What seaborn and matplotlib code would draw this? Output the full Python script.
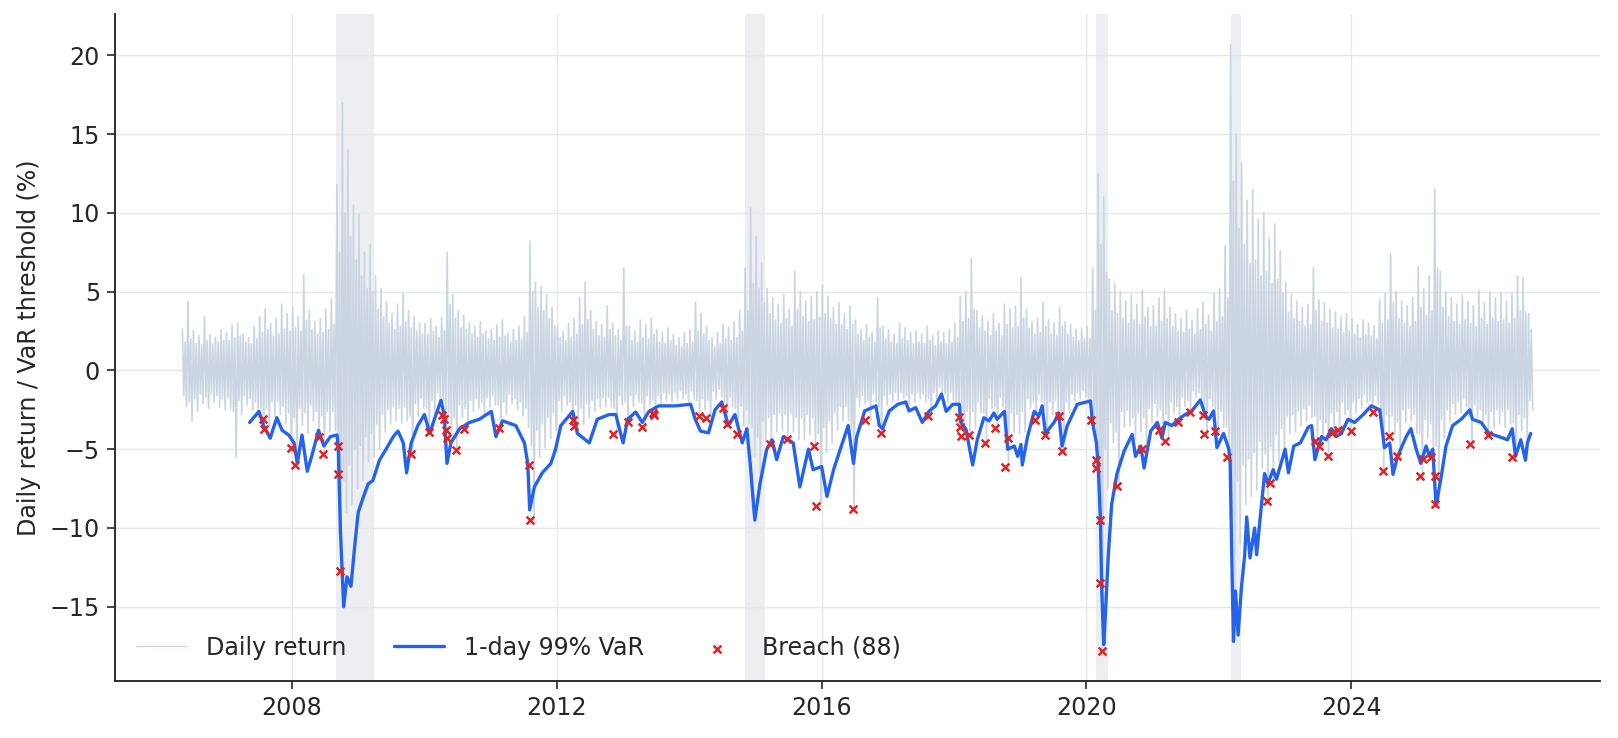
import numpy as np
import matplotlib
matplotlib.use("Agg")
import matplotlib.pyplot as plt
import seaborn as sns

sns.set_theme(style="ticks")
plt.rcParams['font.family'] = ['DejaVu Sans']

# daily return swings per month, May 2006 .. Sep 2026 (%)
# largest up move, largest down move, and the next-largest of each
ret_hi = [
    2.6, 4.4, 2.5, 2.2, 3.4, 2.3, 2.1, 2.6,                      # 2006
    2.4, 2.9, 3.0, 2.3, 2.1, 2.8, 3.4, 3.9, 3.0, 3.3, 4.2, 3.6,  # 2007
    4.0, 3.4, 6.1, 3.8, 3.1, 3.3, 3.9, 4.5, 11.8, 17.0, 14.0, 10.5,
    9.9, 7.5, 8.0, 6.0, 5.2, 4.4, 3.6, 4.2, 4.9, 3.8, 3.4, 3.0,
    3.0, 3.3, 2.8, 3.4, 7.5, 4.8, 3.8, 3.5, 3.0, 2.8, 3.1, 2.5,  # 2010
    2.6, 2.9, 3.2, 2.4, 2.6, 2.8, 3.4, 8.2, 5.6, 5.3, 4.8, 4.0,
    2.8, 2.5, 3.0, 3.3, 4.6, 5.6, 3.8, 3.1, 2.9, 4.1, 3.0, 2.6,
    6.5, 2.8, 2.5, 3.2, 2.9, 3.3, 2.6, 2.4, 2.7, 2.3, 2.1, 2.4,
    2.6, 4.3, 3.6, 2.8, 2.1, 2.4, 2.9, 2.7, 3.1, 3.8, 6.5, 10.3,
    8.5, 6.8, 5.2, 4.6, 4.2, 4.8, 3.9, 6.3, 5.0, 4.4, 4.7, 5.0,  # 2015
    5.4, 4.7, 4.0, 4.3, 3.6, 4.1, 3.2, 2.6, 2.9, 2.4, 4.6, 2.8,
    2.6, 2.3, 3.0, 2.7, 2.4, 2.5, 2.3, 2.8, 2.2, 2.5, 2.4, 2.6,
    3.0, 4.7, 5.0, 7.1, 3.8, 3.5, 3.1, 3.6, 3.0, 4.2, 3.9, 4.1,
    5.9, 3.9, 3.1, 3.3, 4.3, 3.2, 3.0, 4.0, 3.1, 2.9, 2.6, 2.7,
    2.8, 6.5, 12.5, 11.0, 5.8, 5.5, 5.0, 4.4, 4.8, 4.2, 5.1, 4.0,  # 2020
    4.1, 4.6, 5.1, 4.0, 3.6, 3.3, 3.8, 3.2, 3.9, 4.3, 3.5, 4.9,
    5.2, 7.9, 20.7, 15.0, 13.2, 10.8, 11.5, 9.6, 10.0, 8.4, 9.3, 7.6,
    5.6, 4.8, 4.4, 4.0, 4.2, 6.5, 4.5, 4.3, 3.9, 3.7, 3.4, 3.6,
    3.3, 2.9, 3.2, 3.0, 2.8, 4.5, 4.9, 7.4, 5.0, 4.4, 4.1, 4.6,
    6.6, 5.2, 6.0, 11.5, 6.3, 5.0, 4.6, 4.2, 4.8, 4.4, 4.1, 5.1,  # 2025
    4.3, 5.0, 4.6, 4.9, 4.4, 4.9, 6.0, 5.9, 3.6,
]
ret_lo = [
    -2.3, -3.2, -2.6, -2.1, -2.4, -2.0, -2.3, -2.5,
    -2.4, -5.5, -2.8, -2.2, -2.5, -3.0, -3.7, -3.6, -2.9, -2.8, -3.4, -4.9,
    -6.0, -3.5, -4.0, -3.2, -4.2, -5.3, -3.9, -3.8, -12.7, -9.0, -8.5, -7.5,
    -7.0, -5.8, -5.5, -5.0, -3.9, -3.4, -3.2, -3.3, -3.2, -5.3, -2.9, -2.4,
    -3.9, -2.7, -1.8, -3.06, -4.3, -5.06, -3.0, -3.7, -2.6, -2.4, -2.8, -2.3,
    -2.2, -3.66, -2.8, -2.1, -2.5, -2.9, -3.6, -9.5, -5.5, -4.9, -4.3, -3.8,
    -2.6, -2.2, -3.15, -3.5, -3.4, -3.0, -2.6, -2.4, -2.3, -2.3, -4.06, -2.2,
    -3.3, -2.3, -2.0, -3.6, -2.2, -2.85, -2.2, -1.9, -2.0, -1.9, -1.8, -2.0,
    -1.8, -2.9, -2.5, -3.0, -1.8, -1.7, -3.4, -2.3, -4.06, -3.5, -3.4, -5.5,
    -6.5, -4.5, -4.7, -3.9, -3.8, -4.34, -3.9, -4.4, -4.4, -4.1, -4.8, -8.6,
    -5.2, -4.6, -3.8, -3.2, -3.2, -8.8, -2.3, -2.1, -3.15, -2.0, -3.96, -2.2,
    -2.0, -1.9, -1.8, -2.1, -2.0, -1.8, -2.0, -2.9, -1.9, -1.4, -2.0, -1.9,
    -2.94, -4.17, -4.1, -3.7, -2.7, -4.6, -2.4, -3.68, -2.3, -6.1, -3.9, -4.0,
    -3.9, -2.4, -3.15, -2.0, -4.1, -2.8, -2.9, -5.1, -2.7, -1.9, -1.8, -1.7,
    -3.15, -6.2, -17.8, -7.5, -4.6, -7.36, -3.6, -3.5, -4.4, -3.9, -4.98, -3.3,
    -2.9, -3.8, -4.5, -2.7, -3.3, -2.3, -2.64, -1.7, -1.8, -4.06, -2.3, -3.85,
    -3.6, -5.5, -14.0, -11.0, -8.5, -8.0, -7.6, -6.2, -8.26, -7.15, -5.8, -5.2,
    -4.0, -3.9, -3.5, -3.2, -3.0, -4.45, -4.8, -5.4, -4.0, -3.8, -2.8, -3.85,
    -2.7, -2.4, -2.0, -2.64, -2.1, -6.4, -4.17, -4.0, -5.4, -3.3, -3.2, -4.0,
    -6.7, -4.3, -5.5, -8.5, -4.3, -3.3, -2.8, -2.7, -2.3, -4.7, -3.0, -3.4,
    -4.1, -3.6, -3.4, -3.6, -3.4, -5.5, -3.8, -4.5, -2.5,
]
ret_hi2 = [
    1.8, 2.0, 1.7, 1.6, 1.9, 1.7, 1.8, 1.9,
    1.9, 2.1, 2.2, 1.8, 1.7, 2.0, 2.4, 2.6, 2.2, 2.3, 2.6, 2.5,
    2.7, 2.5, 3.2, 2.6, 2.3, 2.4, 2.6, 2.9, 7.5, 10.0, 8.5, 7.0,
    6.0, 5.2, 5.0, 3.9, 3.4, 3.0, 2.6, 2.8, 3.1, 2.7, 2.5, 2.3,
    2.3, 2.5, 2.1, 2.5, 4.2, 3.3, 2.7, 2.6, 2.3, 2.1, 2.3, 2.0,
    1.9, 2.1, 2.2, 1.8, 1.9, 2.0, 2.4, 5.0, 4.0, 3.8, 3.3, 2.8,
    2.1, 1.9, 2.1, 2.3, 2.9, 3.2, 2.6, 2.2, 2.1, 2.6, 2.2, 1.9,
    2.8, 1.9, 1.8, 2.1, 2.0, 2.3, 1.8, 1.7, 1.9, 1.6, 1.5, 1.7,
    1.8, 2.5, 2.3, 1.9, 1.5, 1.7, 2.0, 1.9, 2.1, 2.5, 3.8, 5.5,
    5.2, 4.3, 3.6, 3.2, 3.0, 3.3, 2.8, 3.9, 3.4, 3.1, 3.2, 3.4,
    3.6, 3.3, 2.9, 2.9, 2.6, 2.9, 2.3, 1.9, 2.1, 1.8, 2.7, 2.0,
    1.8, 1.7, 2.0, 1.9, 1.7, 1.8, 1.7, 1.9, 1.6, 1.8, 1.7, 1.8,
    2.1, 3.1, 3.3, 3.9, 2.7, 2.5, 2.2, 2.5, 2.2, 2.9, 2.7, 2.8,
    3.3, 2.7, 2.3, 2.4, 2.8, 2.3, 2.2, 2.8, 2.3, 2.1, 1.9, 2.0,
    2.0, 3.8, 8.0, 6.2, 3.8, 3.6, 3.3, 3.0, 3.2, 2.9, 3.4, 2.8,
    2.8, 3.1, 3.3, 2.8, 2.5, 2.4, 2.6, 2.3, 2.6, 2.9, 2.5, 3.1,
    3.4, 4.6, 12.0, 9.0, 8.0, 6.8, 7.0, 6.0, 6.3, 5.5, 5.8, 4.9,
    3.7, 3.3, 3.1, 2.8, 2.9, 3.8, 3.1, 3.0, 2.7, 2.6, 2.4, 2.5,
    2.3, 2.1, 2.3, 2.2, 2.0, 3.0, 3.2, 4.3, 3.3, 3.0, 2.8, 3.1,
    4.0, 3.5, 3.8, 6.5, 4.0, 3.4, 3.1, 2.9, 3.2, 3.0, 2.8, 3.3,
    2.9, 3.3, 3.1, 3.2, 3.0, 3.3, 3.8, 3.7, 2.6,
]
ret_lo2 = [
    -1.6, -2.0, -1.8, -1.5, -1.7, -1.5, -1.6, -1.8,
    -1.7, -2.6, -1.9, -1.6, -1.8, -2.0, -2.4, -2.4, -2.0, -2.0, -2.3, -2.7,
    -3.0, -2.4, -2.7, -2.2, -2.6, -2.9, -2.6, -2.6, -6.5, -7.0, -6.0, -5.0,
    -4.8, -4.2, -4.0, -3.4, -2.8, -2.5, -2.3, -2.4, -2.3, -2.9, -2.1, -1.8,
    -2.4, -1.9, -1.4, -2.1, -2.9, -3.0, -2.2, -2.4, -1.9, -1.8, -2.0, -1.7,
    -1.6, -2.2, -2.0, -1.5, -1.8, -2.0, -2.4, -4.8, -3.8, -3.4, -3.0, -2.7,
    -1.9, -1.6, -2.0, -2.2, -2.4, -2.1, -1.9, -1.8, -1.7, -1.7, -2.4, -1.6,
    -2.0, -1.6, -1.5, -2.1, -1.6, -1.9, -1.6, -1.4, -1.5, -1.4, -1.3, -1.5,
    -1.3, -1.9, -1.8, -1.9, -1.3, -1.2, -2.0, -1.7, -2.4, -2.3, -2.5, -3.6,
    -4.2, -3.2, -3.0, -2.8, -2.7, -2.8, -2.7, -3.0, -3.0, -2.8, -3.0, -4.0,
    -3.6, -3.2, -2.7, -2.3, -2.3, -3.8, -1.7, -1.6, -1.9, -1.5, -2.3, -1.6,
    -1.5, -1.4, -1.4, -1.6, -1.5, -1.4, -1.5, -1.8, -1.4, -1.1, -1.5, -1.4,
    -2.0, -2.6, -2.6, -2.6, -2.0, -2.7, -1.8, -2.3, -1.7, -3.4, -2.7, -2.8,
    -2.6, -1.8, -2.0, -1.5, -2.5, -2.0, -1.9, -2.8, -2.0, -1.5, -1.4, -1.3,
    -2.0, -3.8, -9.0, -5.0, -3.3, -3.9, -2.6, -2.5, -3.0, -2.7, -3.0, -2.4,
    -2.1, -2.5, -2.8, -2.0, -2.3, -1.7, -1.9, -1.3, -1.4, -2.6, -1.8, -2.5,
    -2.6, -3.6, -9.0, -7.0, -6.0, -5.6, -5.2, -4.5, -5.3, -4.8, -4.1, -3.7,
    -2.9, -2.8, -2.6, -2.4, -2.2, -2.9, -3.1, -3.3, -2.7, -2.6, -2.0, -2.5,
    -2.0, -1.8, -1.5, -1.9, -1.6, -3.6, -2.8, -2.9, -3.3, -2.5, -2.4, -2.8,
    -4.0, -3.1, -3.4, -4.8, -3.1, -2.5, -2.1, -2.0, -1.8, -2.9, -2.2, -2.5,
    -2.8, -2.6, -2.5, -2.6, -2.5, -3.3, -2.8, -3.0, -1.9,
]

# 1-day 99% VaR threshold (decimal year, %)
var_t = [2007.36, 2007.50, 2007.57, 2007.67, 2007.77, 2007.85, 2007.95, 2008.03,
         2008.08, 2008.15, 2008.23, 2008.30, 2008.40, 2008.48, 2008.58, 2008.68,
         2008.70, 2008.73, 2008.78, 2008.83, 2008.89, 2008.95, 2009.00, 2009.08,
         2009.15, 2009.22, 2009.32, 2009.42, 2009.53, 2009.60, 2009.68, 2009.73,
         2009.80, 2009.90, 2010.00, 2010.08, 2010.15, 2010.25, 2010.30, 2010.34,
         2010.40, 2010.53, 2010.68, 2010.83, 2011.01, 2011.08, 2011.18, 2011.38,
         2011.51, 2011.56, 2011.59, 2011.66, 2011.78, 2011.91, 2011.98, 2012.06,
         2012.24, 2012.31, 2012.49, 2012.61, 2012.79, 2012.89, 2013.00, 2013.07,
         2013.19, 2013.29, 2013.39, 2013.54, 2013.79, 2014.02, 2014.09, 2014.17,
         2014.29, 2014.39, 2014.49, 2014.59, 2014.69, 2014.80, 2014.87, 2014.92,
         2014.99, 2015.07, 2015.17, 2015.25, 2015.32, 2015.42, 2015.57, 2015.67,
         2015.80, 2015.87, 2016.00, 2016.08, 2016.18, 2016.25, 2016.40, 2016.48,
         2016.53, 2016.65, 2016.82, 2016.87, 2016.92, 2017.02, 2017.15, 2017.27,
         2017.32, 2017.42, 2017.52, 2017.62, 2017.72, 2017.81, 2017.88, 2017.98,
         2018.08, 2018.10, 2018.18, 2018.28, 2018.35, 2018.45, 2018.53, 2018.60,
         2018.65, 2018.76, 2018.81, 2018.91, 2018.96, 2019.01, 2019.03, 2019.11,
         2019.21, 2019.28, 2019.33, 2019.38, 2019.51, 2019.58, 2019.63, 2019.71,
         2019.86, 2020.06, 2020.09, 2020.15, 2020.18, 2020.21, 2020.23, 2020.26,
         2020.28, 2020.33, 2020.38, 2020.46, 2020.57, 2020.69, 2020.74, 2020.82,
         2020.87, 2020.97, 2021.07, 2021.14, 2021.19, 2021.29, 2021.39, 2021.49,
         2021.59, 2021.72, 2021.80, 2021.85, 2021.92, 2021.97, 2022.07, 2022.15,
         2022.17, 2022.20, 2022.22, 2022.25, 2022.29, 2022.34, 2022.39, 2022.42,
         2022.47, 2022.54, 2022.57, 2022.62, 2022.69, 2022.74, 2022.82, 2022.87,
         2023.00, 2023.05, 2023.13, 2023.23, 2023.35, 2023.40, 2023.45, 2023.55,
         2023.62, 2023.70, 2023.77, 2023.85, 2023.95, 2024.05, 2024.18, 2024.30,
         2024.43, 2024.50, 2024.58, 2024.63, 2024.70, 2024.83, 2024.90, 2024.98,
         2025.05, 2025.13, 2025.18, 2025.23, 2025.28, 2025.36, 2025.43, 2025.53,
         2025.66, 2025.79, 2025.83, 2025.96, 2026.08, 2026.23, 2026.36, 2026.43,
         2026.48, 2026.56, 2026.63, 2026.66, 2026.71]
var_v = [-3.3, -2.6, -3.5, -4.3, -3.0, -3.8, -4.1, -4.6,
         -5.9, -4.1, -6.4, -5.4, -3.8, -4.8, -4.2, -4.1,
         -5.0, -10.1, -15.0, -13.1, -13.7, -11.0, -9.0, -8.0,
         -7.2, -7.0, -5.7, -5.0, -4.2, -3.85, -4.6, -6.5,
         -4.6, -3.5, -2.8, -4.0, -3.1, -1.9, -2.9, -5.9,
         -4.6, -3.7, -3.3, -3.1, -2.6, -4.2, -3.2, -3.5,
         -4.6, -5.9, -8.85, -7.4, -6.5, -5.9, -5.0, -3.5,
         -2.6, -4.0, -4.6, -3.1, -2.8, -2.8, -4.6, -3.1,
         -2.64, -3.3, -2.6, -2.25, -2.25, -2.15, -3.1, -3.85,
         -3.96, -2.5, -2.0, -3.5, -2.8, -4.6, -3.7, -5.9,
         -9.5, -7.15, -5.0, -4.4, -5.66, -4.2, -4.6, -7.4,
         -5.0, -6.3, -6.1, -8.0, -6.3, -5.4, -3.5, -5.9,
         -4.2, -2.57, -2.25, -3.5, -3.7, -2.57, -2.15, -2.0,
         -2.57, -2.36, -3.3, -2.6, -2.25, -1.5, -2.6, -2.15,
         -2.15, -3.3, -3.74, -6.0, -4.4, -3.0, -3.2, -2.7,
         -3.1, -2.6, -5.0, -4.8, -5.45, -4.7, -6.0, -4.2,
         -2.6, -2.9, -2.25, -4.0, -3.3, -2.7, -4.8, -3.5,
         -2.15, -1.94, -3.3, -4.6, -6.3, -9.5, -13.8, -17.4,
         -15.9, -11.7, -8.5, -6.55, -5.1, -4.06, -5.45, -4.8,
         -6.2, -3.85, -3.3, -4.3, -3.3, -3.5, -3.1, -2.8,
         -2.57, -1.87, -2.9, -3.1, -2.57, -4.9, -4.0, -5.0,
         -5.9, -13.1, -17.2, -14.0, -16.8, -13.8, -11.7, -9.3,
         -11.9, -10.0, -11.7, -9.5, -6.55, -7.2, -6.3, -6.9,
         -5.0, -6.5, -4.8, -4.6, -3.6, -3.5, -5.66, -4.2,
         -4.4, -3.7, -4.2, -4.0, -3.1, -3.3, -2.8, -2.25,
         -2.5, -4.9, -4.6, -6.6, -5.45, -4.2, -3.7, -5.0,
         -5.9, -4.8, -5.45, -5.0, -8.6, -6.7, -4.8, -3.5,
         -3.1, -2.5, -3.1, -3.3, -4.0, -4.2, -4.4, -3.7,
         -5.45, -4.4, -5.7, -4.6, -4.0]

# VaR breaches (decimal year, daily return %)
breach_t = [2007.56, 2007.58, 2007.98, 2008.05, 2008.41, 2008.47, 2008.69, 2008.69,
            2008.72, 2009.80, 2010.07, 2010.27, 2010.29, 2010.32, 2010.34, 2010.48,
            2010.59, 2011.13, 2011.58, 2011.59, 2012.24, 2012.26, 2012.85, 2013.08,
            2013.28, 2013.45, 2013.46, 2014.14, 2014.25, 2014.51, 2014.57, 2014.72,
            2015.22, 2015.47, 2015.88, 2015.92, 2016.47, 2016.66, 2016.90, 2017.61,
            2018.08, 2018.09, 2018.10, 2018.22, 2018.46, 2018.62, 2018.77, 2018.81,
            2019.22, 2019.38, 2019.58, 2019.63, 2020.07, 2020.14, 2020.15, 2020.21,
            2020.21, 2020.23, 2020.46, 2020.84, 2021.10, 2021.18, 2021.38, 2021.57,
            2021.76, 2021.77, 2021.94, 2022.12, 2022.73, 2022.77, 2023.45, 2023.51,
            2023.65, 2023.71, 2023.80, 2023.99, 2024.32, 2024.48, 2024.57, 2024.69,
            2025.04, 2025.08, 2025.20, 2025.26, 2025.26, 2025.79, 2026.06, 2026.43]
breach_v = [-3.1, -3.7, -4.9, -6.0, -4.2, -5.3, -4.8, -6.6,
            -12.7, -5.3, -3.9, -2.85, -3.06, -3.8, -4.3, -5.06,
            -3.7, -3.66, -6.0, -9.5, -3.15, -3.5, -4.06, -3.3,
            -3.6, -2.72, -2.85, -2.9, -3.0, -2.4, -3.4, -4.06,
            -4.7, -4.34, -4.8, -8.6, -8.8, -3.15, -3.96, -2.9,
            -2.94, -3.57, -4.17, -4.1, -4.6, -3.68, -6.1, -4.3,
            -3.15, -4.1, -2.9, -5.1, -3.15, -5.7, -6.2, -9.5,
            -13.5, -17.8, -7.36, -4.98, -3.8, -4.5, -3.3, -2.64,
            -2.83, -4.06, -3.85, -5.5, -8.26, -7.15, -4.45, -4.8,
            -5.4, -4.0, -3.8, -3.85, -2.64, -6.4, -4.17, -5.4,
            -6.7, -5.6, -5.5, -6.7, -8.5, -4.7, -4.1, -5.5]

# stress windows shaded grey
stress_start = [2008.66, 2014.84, 2020.14, 2022.18]
stress_end = [2009.24, 2015.15, 2020.33, 2022.34]

# four return points per month: big up, small down, small up, big down
month_idx = np.arange(len(ret_hi))
month_pos = 2006 + (4 + month_idx) / 12
ret_t = np.column_stack([month_pos + k / 48 for k in (0.5, 1.5, 2.5, 3.5)]).ravel()
ret_v = np.column_stack([ret_hi, ret_lo2, ret_hi2, ret_lo]).ravel()

fs = 11.4
fig, ax = plt.subplots(figsize=(1618 / 150, 738 / 150), dpi=150)
fig.subplots_adjust(left=0.071, right=0.989, top=0.981, bottom=0.077)

for s, e in zip(stress_start, stress_end):
    ax.axvspan(s, e, color="#eceef1", zorder=0, lw=0)

sns.lineplot(x=ret_t, y=ret_v, ax=ax, color="#cbd5e1", lw=0.8,
             estimator=None, sort=False, label="Daily return", zorder=2)
sns.lineplot(x=var_t, y=var_v, ax=ax, color="#2563eb", lw=1.6,
             estimator=None, sort=False, label="1-day 99% VaR", zorder=3)
sns.scatterplot(x=breach_t, y=breach_v, ax=ax, marker="x", color="#dc2626",
                s=14, linewidth=1.2, label=f"Breach ({len(breach_t)})", zorder=4)

ax.set_xticks([2008, 2012, 2016, 2020, 2024])
ax.set_xticklabels(["2008", "2012", "2016", "2020", "2024"])
ax.set_yticks([-15, -10, -5, 0, 5, 10, 15, 20])
ax.set_xlabel("")
ax.set_ylabel("Daily return / VaR threshold (%)", fontsize=fs)
ax.tick_params(labelsize=fs, length=3.7, width=0.8)
ax.grid(True, color="#e8e8e8", lw=0.7)
sns.despine(ax=ax)
for sp in ["left", "bottom"]:
    ax.spines[sp].set_linewidth(0.9)

leg = ax.legend(loc="lower left", ncol=3, frameon=False, fontsize=fs,
                handlelength=2.1, handletextpad=0.85, columnspacing=2.0)
leg.get_lines()[0].set_linewidth(0.6)

fig.savefig("out.png", dpi=150)
